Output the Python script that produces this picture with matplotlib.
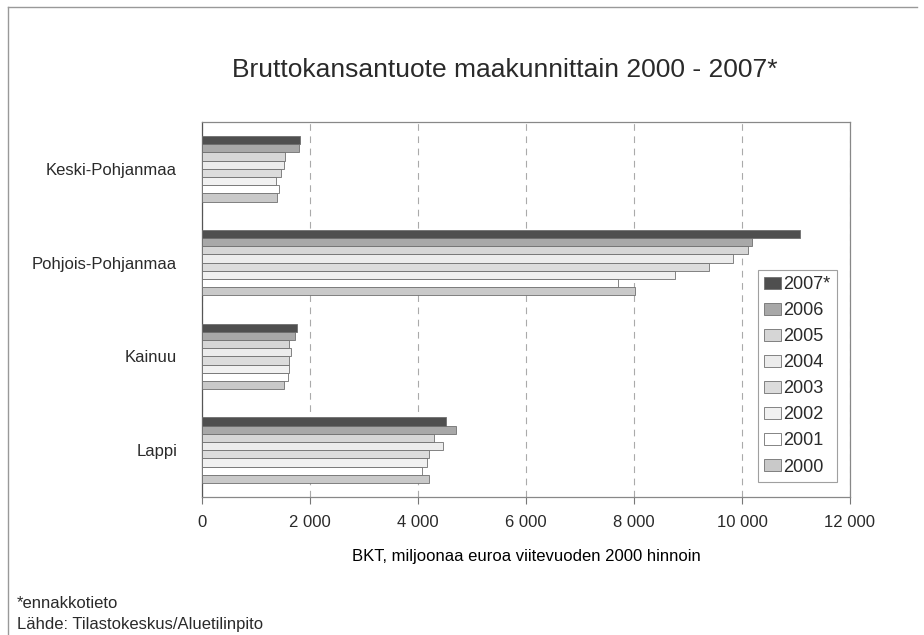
import numpy as np
import matplotlib.pyplot as plt
from matplotlib.lines import Line2D

plt.rcParams['font.family'] = ['Liberation Sans', 'DejaVu Sans']
plt.rcParams['text.color'] = '#2a2a2a'

# regions from top to bottom
regions = ['Keski-Pohjanmaa', 'Pohjois-Pohjanmaa', 'Kainuu', 'Lappi']
years = ['2000', '2001', '2002', '2003', '2004', '2005', '2006', '2007*']

# BKT, milj. euroa (values per region, year order 2000..2007)
keski = [1395, 1432, 1377, 1457, 1513, 1543, 1790, 1815]
pohjois = [8013, 7710, 8750, 9389, 9836, 10111, 10180, 11068]
kainuu = [1519, 1586, 1605, 1605, 1654, 1605, 1722, 1765]
lappi = [4210, 4080, 4161, 4210, 4469, 4296, 4704, 4525]

colors = ['#c9c9c9', '#ffffff', '#f1f1f1', '#dcdcdc', '#ececec', '#d6d6d6', '#a8a8a8', '#4f4f4f']

fig = plt.figure(figsize=(9.24, 6.35), dpi=100)
ax = fig.add_axes([202/924, 1 - 497/635, 648/924, 375/635])

values = np.array([keski, pohjois, kainuu, lappi])
ypos = np.arange(len(regions))[::-1]  # Keski at top
n = len(years)
h = 0.7 / n
for k in range(n):
    ax.barh(ypos + (k - (n - 1) / 2) * h, values[:, k], height=h,
            color=colors[k], edgecolor='#707070', linewidth=0.6,
            label=years[k], zorder=3)

ax.set_xlim(0, 12000)
ax.set_ylim(-0.5, 3.5)
ax.set_xticks(range(0, 12001, 2000))
ax.set_xticklabels(['{:,}'.format(v).replace(',', ' ') for v in range(0, 12001, 2000)])
ax.set_yticks(ypos)
ax.set_yticklabels(regions)
ax.tick_params(axis='y', length=0, pad=18, labelsize=12, labelcolor='#2a2a2a')
ax.tick_params(axis='x', length=5, width=0.8, color='#777777', pad=8,
               labelsize=12, labelcolor='#2a2a2a')
ax.grid(axis='x', linestyle=(0, (6, 5)), color='#aaaaaa', linewidth=0.8, zorder=0)
for s in ax.spines.values():
    s.set_color('#888888')
    s.set_linewidth(0.9)
ax.spines['left'].set_color('#555555')

ax.set_xlabel('BKT, miljoonaa euroa viitevuoden 2000 hinnoin', fontsize=12,
              labelpad=14)

handles, labels = ax.get_legend_handles_labels()
leg = ax.legend(handles[::-1], labels[::-1], loc='upper right',
                bbox_to_anchor=((837 - 202) / 648, (497 - 270) / 375), fontsize=13,
                frameon=True, fancybox=False, edgecolor='#888888',
                handlelength=0.9, handleheight=0.6, handletextpad=0.15,
                labelspacing=0.5, borderpad=0.35, borderaxespad=0)
leg.get_frame().set_linewidth(0.8)

fig.text(505/924, 1 - 70/635, 'Bruttokansantuote maakunnittain 2000 - 2007*',
         fontsize=19, ha='center', va='center')
fig.text(17/924, 1 - 603/635, '*ennakkotieto', fontsize=12, va='center')
fig.text(17/924, 1 - 624/635, 'Lähde: Tilastokeskus/Aluetilinpito', fontsize=12,
         va='center')

# outer frame (top and left edges)
fig.add_artist(Line2D([8/924, 917/924], [1 - 7/635, 1 - 7/635],
                      color='#999999', linewidth=1.0, transform=fig.transFigure))
fig.add_artist(Line2D([8/924, 8/924], [1 - 7/635, 0],
                      color='#999999', linewidth=1.0, transform=fig.transFigure))

fig.savefig('out.png', dpi=100)
